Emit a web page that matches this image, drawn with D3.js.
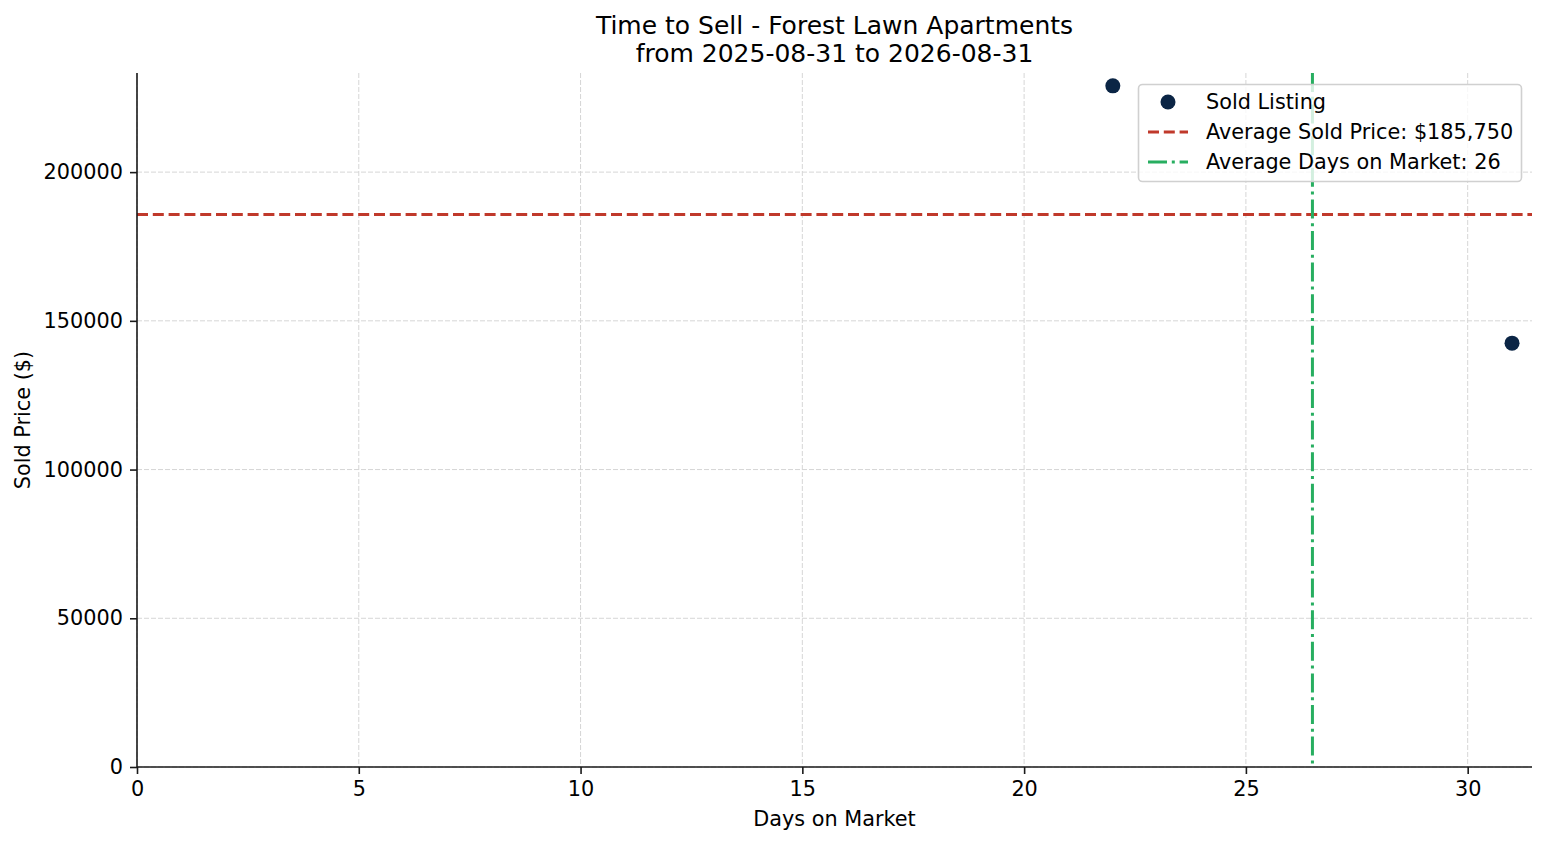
<!DOCTYPE html>
<html>
<head>
<meta charset="utf-8">
<script src="https://cdn.jsdelivr.net/npm/d3@7"></script>
<style>
  html, body { margin: 0; padding: 0; background: #fff; }
  text { font-family: "DejaVu Sans", sans-serif; fill: #000; }
</style>
</head>
<body>
<svg id="chart" width="1547" height="845"></svg>
<script>
// ---- data ----
const daysOnMarket = [22, 31];
const soldPrices = [229000, 142500];
const xTicks = [0, 5, 10, 15, 20, 25, 30];
const yTicks = [0, 50000, 100000, 150000, 200000];
const titleLines = ["Time to Sell - Forest Lawn Apartments", "from 2025-08-31 to 2026-08-31"];
const legendLabels = ["Sold Listing", "Average Sold Price: $185,750", "Average Days on Market: 26"];

const avgPrice = d3.mean(soldPrices);
const avgDays = d3.mean(daysOnMarket);

// ---- layout ----
const W = 1547, H = 845;
const m = { left: 137, right: 1532, top: 73, bottom: 767 };
const colors = { point: "#0b2545", price: "#c0392b", days: "#27ae60", spine: "#1a1a1a", grid: "#d6d6d6" };
const fs = 20.8;

const svg = d3.select("#chart");

const xMax = d3.max(daysOnMarket) + 0.05 * (d3.max(daysOnMarket) - d3.min(daysOnMarket));
const yMax = d3.max(soldPrices) + 0.05 * (d3.max(soldPrices) - d3.min(soldPrices));

const x = d3.scaleLinear().domain([0, xMax]).range([m.left, m.right]);
const y = d3.scaleLinear().domain([0, yMax]).range([m.bottom, m.top]);

// grid
const grid = svg.append("g");
grid.selectAll(".gx").data(xTicks).join("line")
  .attr("x1", d => x(d)).attr("x2", d => x(d))
  .attr("y1", m.top).attr("y2", m.bottom)
  .attr("stroke", colors.grid).attr("stroke-width", 1).attr("stroke-dasharray", "5,2");
grid.selectAll(".gy").data(yTicks).join("line")
  .attr("x1", m.left).attr("x2", m.right)
  .attr("y1", d => y(d)).attr("y2", d => y(d))
  .attr("stroke", colors.grid).attr("stroke-width", 1).attr("stroke-dasharray", "5,2");

// average lines
svg.append("line")
  .attr("x1", m.left).attr("x2", m.right)
  .attr("y1", y(avgPrice)).attr("y2", y(avgPrice))
  .attr("stroke", colors.price).attr("stroke-width", 3)
  .attr("stroke-dasharray", "11,4.8");
svg.append("line")
  .attr("x1", x(avgDays)).attr("x2", x(avgDays))
  .attr("y1", m.top).attr("y2", m.bottom)
  .attr("stroke", colors.days).attr("stroke-width", 3)
  .attr("stroke-dasharray", "19,4.8,3,4.8");

// points
svg.append("g").selectAll("circle").data(daysOnMarket.map((d, i) => [d, soldPrices[i]])).join("circle")
  .attr("cx", d => x(d[0])).attr("cy", d => y(d[1]))
  .attr("r", 7.5).attr("fill", colors.point);

// axes
const xAxis = d3.axisBottom(x).tickValues(xTicks).tickSize(7).tickPadding(7).tickFormat(d3.format("d"));
const yAxis = d3.axisLeft(y).tickValues(yTicks).tickSize(7).tickPadding(7).tickFormat(d3.format("d"));

const gx = svg.append("g").attr("transform", `translate(0,${m.bottom})`).call(xAxis);
const gy = svg.append("g").attr("transform", `translate(${m.left},0)`).call(yAxis);
[gx, gy].forEach(g => {
  g.select(".domain").attr("stroke", colors.spine).attr("stroke-width", 1.6);
  g.selectAll(".tick line").attr("stroke", colors.spine).attr("stroke-width", 1.6);
  g.selectAll(".tick text").style("font-family", "DejaVu Sans").style("font-size", fs + "px").attr("fill", "#000");
});
gx.select(".domain").attr("d", `M${m.left},0H${m.right}`);
gy.select(".domain").attr("d", `M0,${m.bottom}V${m.top}`);

// titles
svg.selectAll(".title").data(titleLines).join("text")
  .attr("x", (m.left + m.right) / 2).attr("y", (d, i) => 34 + i * 28)
  .attr("text-anchor", "middle").style("font-size", "25px").text(d => d);

svg.append("text").attr("x", (m.left + m.right) / 2).attr("y", 826)
  .attr("text-anchor", "middle").style("font-size", fs + "px").text("Days on Market");
svg.append("text").attr("transform", `translate(30,${(m.top + m.bottom) / 2}) rotate(-90)`)
  .attr("text-anchor", "middle").style("font-size", fs + "px").text("Sold Price ($)");

// legend
const lg = svg.append("g");
lg.append("rect").attr("x", 1138.5).attr("y", 84.5).attr("width", 383).attr("height", 97)
  .attr("rx", 4).attr("fill", "#fff").attr("fill-opacity", 0.8)
  .attr("stroke", "#d0d0d0").attr("stroke-width", 1.6);
const rowY = [102, 132, 162];
lg.append("circle").attr("cx", 1168).attr("cy", rowY[0]).attr("r", 7.5).attr("fill", colors.point);
lg.append("line").attr("x1", 1148).attr("x2", 1188).attr("y1", rowY[1]).attr("y2", rowY[1])
  .attr("stroke", colors.price).attr("stroke-width", 3).attr("stroke-dasharray", "11,4.8");
lg.append("line").attr("x1", 1148).attr("x2", 1188).attr("y1", rowY[2]).attr("y2", rowY[2])
  .attr("stroke", colors.days).attr("stroke-width", 3).attr("stroke-dasharray", "19,4.8,3,4.8");
lg.selectAll(".lt").data(legendLabels).join("text")
  .attr("x", 1206).attr("y", (d, i) => rowY[i] + 7)
  .style("font-size", fs + "px").text(d => d);
</script>
</body>
</html>
